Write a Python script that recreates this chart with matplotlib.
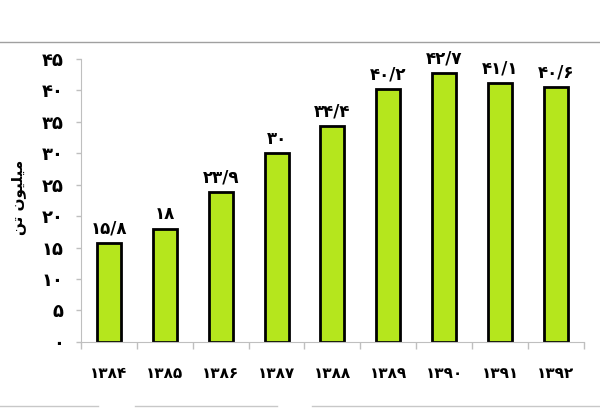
import matplotlib
matplotlib.use("Agg")
import matplotlib.pyplot as plt
from matplotlib.lines import Line2D

# data
years = ["۱۳۸۴", "۱۳۸۵", "۱۳۸۶", "۱۳۸۷", "۱۳۸۸", "۱۳۸۹", "۱۳۹۰", "۱۳۹۱", "۱۳۹۲"]
values = [15.8, 18, 23.9, 30, 34.4, 40.2, 42.7, 41.1, 40.6]
value_labels = ["۱۵/۸", "۱۸", "۲۳/۹", "۳۰", "۳۴/۴", "۴۰/۲", "۴۲/۷", "۴۱/۱", "۴۰/۶"]
y_ticks = [0, 5, 10, 15, 20, 25, 30, 35, 40, 45]
y_tick_labels = ["۰", "۵", "۱۰", "۱۵", "۲۰", "۲۵", "۳۰", "۳۵", "۴۰", "۴۵"]
# "میلیون تن" pre-shaped (presentation forms, visual order) since matplotlib has no bidi
y_label = "\uFEE6\uFE97 \uFEE5\uFEEE\uFEF4\uFEE0\uFEF4\uFEE3"

BAR = "#b5e61d"
GRID = "#bfbfbf"

plt.rcParams["font.family"] = ["DejaVu Sans"]
plt.rcParams["font.weight"] = "bold"

fig = plt.figure(figsize=(6.0, 4.18), dpi=100)
ax = fig.add_axes([0.135, 0.182, 0.838, 0.677])

x = list(range(len(values)))
ax.bar(x, values, width=0.43, color=BAR, edgecolor="black", linewidth=2)
for xi, v, lab in zip(x, values, value_labels):
    ax.annotate(lab, (xi, v), xytext=(0, 4), textcoords="offset points",
                ha="center", va="bottom", fontsize=12, fontweight="bold")

ax.set_xlim(-0.5, len(values) - 0.5)
ax.set_ylim(0, 45)
ax.set_yticks(y_ticks)
ax.set_yticklabels(y_tick_labels, fontsize=13, fontweight="bold")
ax.set_xticks(x)
ax.set_xticklabels(years, fontsize=11, fontweight="bold")
ax.set_xticks([i + 0.5 for i in range(-1, len(values))], minor=True)
ax.tick_params(axis="x", which="major", length=0, pad=17)
ax.tick_params(axis="x", which="minor", length=5, color=GRID, width=1)
ax.tick_params(axis="y", length=3.5, color=GRID, width=1, pad=9)

for s in ["top", "right"]:
    ax.spines[s].set_visible(False)
ax.spines["left"].set_color(GRID)
ax.spines["bottom"].set_color(GRID)

ax.set_ylabel(y_label, fontsize=11, fontweight="bold")
ax.yaxis.set_label_coords(-0.11, 0.51)

# stray frame lines of the source screenshot
fig.add_artist(Line2D([0, 1], [1 - 42 / 418] * 2, color="#a0a0a0", lw=1))
for x0, x1 in [(0, 98), (135, 277), (312, 600)]:
    fig.add_artist(Line2D([x0 / 600, x1 / 600], [1 - 406 / 418] * 2,
                          color="#c8c8c8", lw=1))

fig.savefig("out.png", dpi=100)
